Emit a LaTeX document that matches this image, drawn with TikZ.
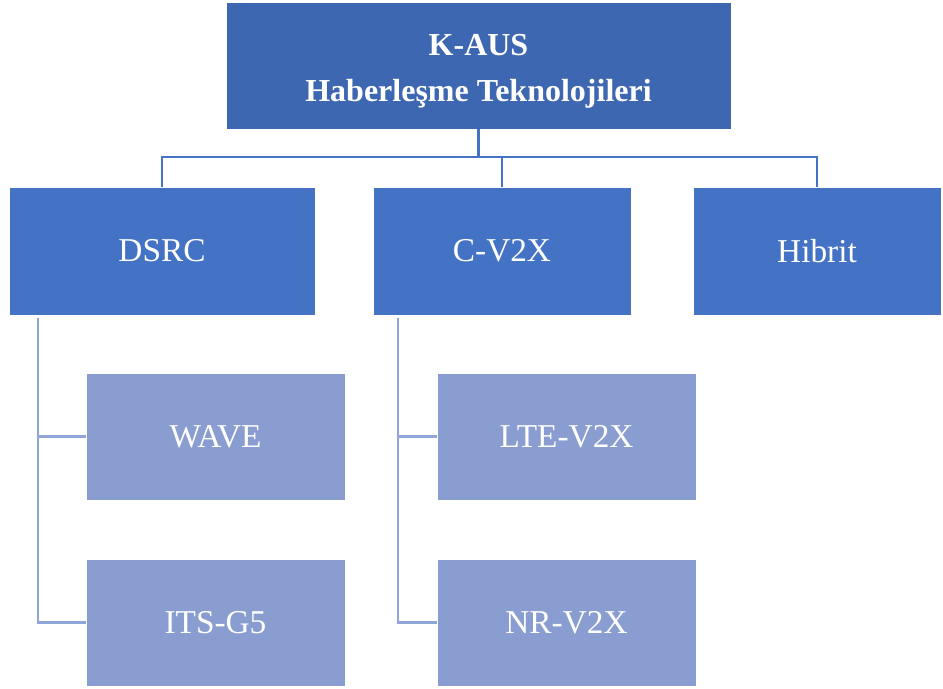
\documentclass[tikz,border=0pt]{standalone}
\usepackage{fontspec}
\setmainfont{Liberation Serif}
\usetikzlibrary{positioning}

\definecolor{rootblue}{HTML}{3E67B1}
\definecolor{midblue}{HTML}{4472C4}
\definecolor{leafblue}{HTML}{8A9DD1}
\definecolor{leafline}{HTML}{8EA5DA}

\tikzset{
  box/.style={rectangle,draw=white,line width=0.4pt,text=white,align=center,
    font=\fontsize{25}{34}\selectfont,inner sep=0pt},
  rootbox/.style={box,fill=rootblue,minimum width=378.75pt,minimum height=95.25pt,
    font=\fontsize{24}{34.5}\selectfont\bfseries},
  techbox/.style={box,fill=midblue,minimum height=96pt},
  leafbox/.style={box,fill=leafblue,minimum width=194.25pt,minimum height=95.25pt},
  link/.style={draw=midblue,line width=1.6pt},
  sublink/.style={draw=leafline,line width=1.6pt}
}

\begin{document}
\begin{tikzpicture}[x=0.75pt,y=-0.75pt]
  \useasboundingbox (0,0) rectangle (943,689);

  % root
  \node[rootbox] (root) at (478.5,65.5) {\rule{0pt}{25pt}K-AUS\\Haberleşme Teknolojileri};

  % technology families
  \node[techbox,minimum width=229.5pt] (dsrc) at (162,251) {DSRC};
  \node[techbox,minimum width=193.5pt] (cv2x) at (502,251) {C-V2X};
  \node[techbox,minimum width=186pt] (hibrit) at (817,251) {Hibrit};

  % standards under each family
  \node[leafbox] (wave) at (215.5,436.5) {WAVE};
  \node[leafbox] (itsg5) at (215.5,622.5) {ITS-G5};
  \node[leafbox] (ltev2x) at (566.5,436.5) {LTE-V2X};
  \node[leafbox] (nrv2x) at (566.5,622.5) {NR-V2X};

  % root to families
  \coordinate (bar) at (478.5,157);
  \draw[link] (root.south) -- (bar);
  \draw[link] (dsrc.north) |- (bar) -| (hibrit.north);
  \draw[link] (cv2x.north) -- (cv2x.north |- bar);

  % families to standards
  \coordinate (dsrcstem) at ([xshift=21.75pt,yshift=-2pt]dsrc.south west);
  \coordinate (cv2xstem) at ([xshift=18.75pt,yshift=-2pt]cv2x.south west);
  \draw[sublink] (dsrcstem) |- (wave.west);
  \draw[sublink] (dsrcstem) |- (itsg5.west);
  \draw[sublink] (cv2xstem) |- (ltev2x.west);
  \draw[sublink] (cv2xstem) |- (nrv2x.west);
\end{tikzpicture}
\end{document}
